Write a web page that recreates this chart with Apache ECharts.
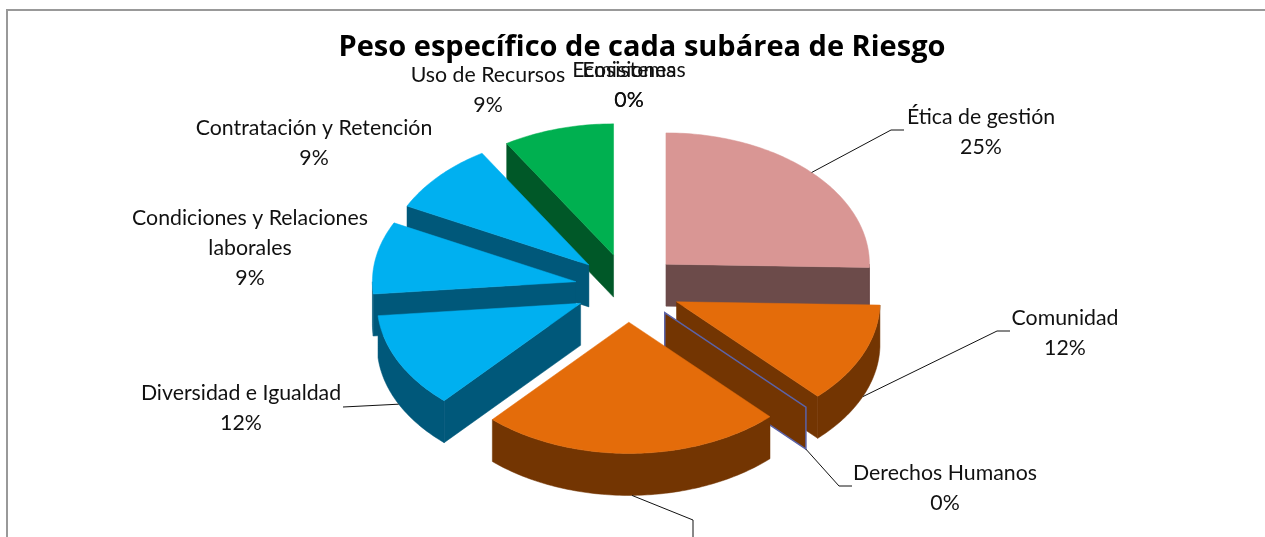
<!DOCTYPE html>
<html>
<head>
<meta charset="utf-8">
<title>Peso específico de cada subárea de Riesgo</title>
<script src="https://cdn.jsdelivr.net/npm/echarts@6/dist/echarts.min.js"></script>
<style>
  html, body { margin: 0; padding: 0; background: #fff; }
  #chart { width: 1265px; height: 537px; }
</style>
</head>
<body>
<div id="chart"></div>
<script>
const chartTitle = 'Peso específico de cada subárea de Riesgo'
// the big orange slice has its label below the visible area, name can't be read
const categories = ['Ética de gestión', 'Comunidad', 'Derechos Humanos', '', 'Diversidad e Igualdad',
  'Condiciones y Relaciones\nlaborales', 'Contratación y Retención', 'Uso de Recursos', 'Ecosistemas', 'Emisiones']
const values = [25.4, 12.4, 0, 23.9, 11.8, 8.9, 8.8, 8.8, 0, 0]

const topColors = ['#D99694', '#E46C0A', '#E46C0A', '#E46C0A', '#00B0F0', '#00B0F0', '#00B0F0', '#00B050', '#00B050', '#00B050']
const sideColors = ['#6C4B4A', '#733502', '#733502', '#733502', '#00587A', '#00587A', '#00587A', '#005828', '#005828', '#005828']

// layout of the fake 3d pie
const cx = 628
const cy = 288
const radius = 203.5
const squash = 0.645
const explode = 53
const depth = 42

// label centres and leader elbows, same order as categories
const labelCenters = [[981, 132], [1065, 333], [945, 488], null, [241, 408], [250, 248], [314, 143], [488, 90], [629, 85], [629, 85]]
const leaderElbows = [
  [[891, 130], [904, 130]],
  [[997, 331], [1010, 331]],
  [[839, 486], [852, 486]],
  [[693, 520], [693, 537]],
  [[343, 407]],
  null, null, null, null, null
]

const total = values.reduce((a, b) => a + b, 0)
const rad = d => d * Math.PI / 180

let acc = 0
const slices = values.map((v, i) => {
  const start = acc
  acc += v / total * 360
  const mid = (start + acc) / 2
  return {
    i,
    start,
    end: acc,
    mid,
    ax: cx + explode * Math.sin(rad(mid)),
    ay: cy - squash * explode * Math.cos(rad(mid))
  }
})

function rim(s, deg, z) {
  return [s.ax + radius * Math.sin(rad(deg)), s.ay - squash * radius * Math.cos(rad(deg)) + z]
}

function arcPoints(s, from, to, z) {
  const pts = []
  const n = Math.max(1, Math.ceil(to - from))
  for (let k = 0; k <= n; k++) pts.push(rim(s, from + (to - from) * k / n, z))
  return pts
}

function wall(s, deg) {
  return [[s.ax, s.ay], rim(s, deg, 0), rim(s, deg, depth), [s.ax, s.ay + depth]]
}

function poly(points, fill, stroke) {
  return {
    type: 'polygon',
    shape: { points },
    style: { fill, stroke: stroke || fill, lineWidth: stroke ? 1.5 : 0.5 }
  }
}

function renderSlice(params, api) {
  const s = slices[api.value(0)]
  const i = s.i
  const side = sideColors[i]
  const children = []
  const sweep = s.end - s.start
  if (sweep === 0) {
    // zero value only shows as a wall, with the thin outline
    if (Math.sin(rad(s.start)) > 0.01) children.push(poly(wall(s, s.start), side, '#5B63A8'))
    return { type: 'group', children }
  }
  if (Math.sin(rad(s.start)) < -0.01) children.push(poly(wall(s, s.start), side))
  if (Math.sin(rad(s.end)) > 0.01) children.push(poly(wall(s, s.end), side))
  const from = Math.max(s.start, 90)
  const to = Math.min(s.end, 270)
  if (to > from) {
    children.push(poly(arcPoints(s, from, to, 0).concat(arcPoints(s, from, to, depth).reverse()), side))
  }
  children.push(poly([[s.ax, s.ay]].concat(arcPoints(s, s.start, s.end, 0)), topColors[i]))
  return { type: 'group', children }
}

function renderLeader(params, api) {
  const i = api.value(0)
  const s = slices[i]
  const deg = s.mid
  const z = deg >= 90 && deg <= 270 ? depth : 0
  return {
    type: 'polyline',
    shape: { points: [rim(s, deg, z)].concat(leaderElbows[i]) },
    style: { fill: null, stroke: '#111', lineWidth: 1 }
  }
}

function renderLabel(params, api) {
  const i = api.value(0)
  const pct = Math.round(values[i] / total * 100) + '%'
  return {
    type: 'text',
    x: labelCenters[i][0],
    y: labelCenters[i][1],
    style: {
      text: categories[i] + '\n' + pct,
      fontFamily: 'Lato',
      fontSize: 21.3,
      lineHeight: 30,
      fill: '#111',
      align: 'center',
      verticalAlign: 'middle'
    }
  }
}

// back to front, the slice furthest up the screen goes first
const drawOrder = slices.slice().sort((a, b) => a.ay - b.ay).map(s => [s.i])
const leaderData = categories.map((c, i) => [i]).filter(d => leaderElbows[d[0]])
const labelData = categories.map((c, i) => [i]).filter(d => labelCenters[d[0]])

const chart = echarts.init(document.getElementById('chart'), null, { renderer: 'canvas' })
chart.setOption({
  animation: false,
  backgroundColor: '#fff',
  title: {
    text: chartTitle,
    left: 637,
    top: 28,
    textAlign: 'center',
    textStyle: { fontFamily: 'Open Sans', fontWeight: 700, fontSize: 29, color: '#000' }
  },
  graphic: [{
    type: 'polyline',
    silent: true,
    shape: { points: [[7, 537], [7, 10], [1265, 10]] },
    style: { fill: null, stroke: '#999', lineWidth: 2 }
  }],
  series: [
    { type: 'custom', coordinateSystem: 'none', silent: true, z: 2, data: drawOrder, renderItem: renderSlice },
    { type: 'custom', coordinateSystem: 'none', silent: true, z: 3, data: leaderData, renderItem: renderLeader },
    { type: 'custom', coordinateSystem: 'none', silent: true, z: 4, data: labelData, renderItem: renderLabel }
  ]
})
</script>
</body>
</html>
